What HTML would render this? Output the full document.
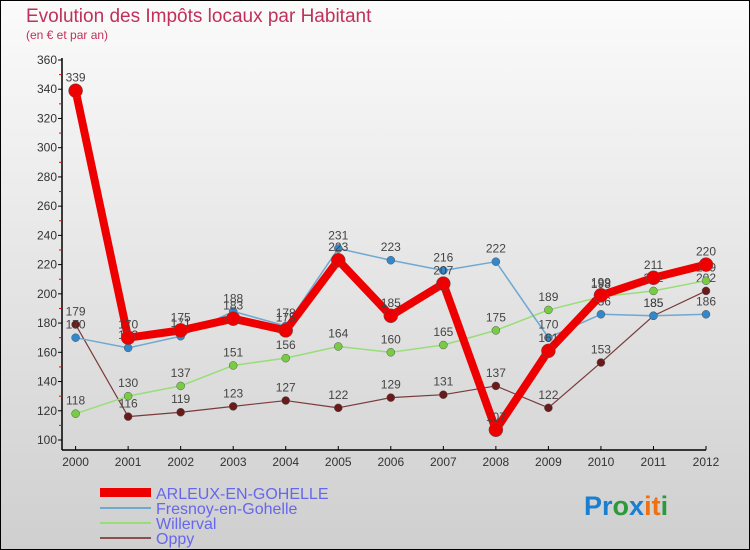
<!DOCTYPE html>
<html><head><meta charset="utf-8"><style>
body{margin:0}
svg{display:block;font-family:"Liberation Sans",sans-serif}
</style></head><body>
<svg id="c" width="750" height="550" viewBox="0 0 750 550">
<defs><linearGradient id="bg" x1="0" y1="0" x2="0" y2="1"><stop offset="0" stop-color="#fbfbfb"/><stop offset="1" stop-color="#cfcfcf"/></linearGradient></defs>
<rect x="0.5" y="0.5" width="749" height="549" fill="url(#bg)" stroke="#000"/>
<text x="26" y="22" font-size="19" fill="#c0305a">Evolution des Impôts locaux par Habitant</text>
<text x="26" y="39" font-size="12" fill="#c0305a">(en € et par an)</text>
<g id="axes"></g>
<g id="series"></g>
<g id="legend">
<rect x="100" y="488" width="51" height="9" fill="#ee0000"/>
<text x="156" y="499" font-size="16" fill="#6666ee">ARLEUX-EN-GOHELLE</text>
<rect x="100" y="507" width="51" height="2" fill="#6fa8d0"/>
<text x="156" y="514" font-size="16" fill="#6666ee">Fresnoy-en-Gohelle</text>
<rect x="100" y="522" width="51" height="2" fill="#99dd77"/>
<text x="156" y="529" font-size="16" fill="#6666ee">Willerval</text>
<rect x="100" y="537" width="51" height="2" fill="#8a5050"/>
<text x="156" y="544" font-size="16" fill="#6666ee">Oppy</text>
</g>
<text x="584" y="515" font-size="27" font-weight="bold"><tspan fill="#1a7fd0">Pr</tspan><tspan fill="#2a9a3a">o</tspan><tspan fill="#1a7fd0">x</tspan><tspan fill="#f07010">it</tspan><tspan fill="#2a9a3a">i</tspan></text>
</svg>
<script>
const years=["2000","2001","2002","2003","2004","2005","2006","2007","2008","2009","2010","2011","2012"];
const arleux=[339,170,175,183,175,223,185,207,107,161,199,211,220];
const fresnoy=[170,163,171,188,178,231,223,216,222,170,186,185,186];
const willerval=[118,130,137,151,156,164,160,165,175,189,198,202,209];
const oppy=[179,116,119,123,127,122,129,131,137,122,153,185,202];
const yTicks=[100,120,140,160,180,200,220,240,260,280,300,320,340,360];
const NS="http://www.w3.org/2000/svg";
function X(i){return 75.6+i*(706-75.6)/(years.length-1);}
function Y(v){return 440-(v-100)*(380/260);}
function mk(t,a,p){const e=document.createElementNS(NS,t);for(const k in a)e.setAttribute(k,a[k]);p.appendChild(e);return e;}
const ax=document.getElementById('axes');
let l=mk('line',{x1:62,y1:58,x2:62,y2:450,stroke:'#000','stroke-width':1.5},ax);


l=mk('line',{x1:62,y1:450,x2:706,y2:450,stroke:'#000','stroke-width':1.5},ax);


yTicks.forEach((v,i)=>{
  mk('line',{x1:58,y1:Y(v),x2:62,y2:Y(v),stroke:'#000'},ax);
  if(i<yTicks.length-1)mk('line',{x1:59,y1:Y(v+10),x2:62,y2:Y(v+10),stroke:'#e00'},ax);
  const t=mk('text',{x:57,y:Y(v)+4,'font-size':12,'text-anchor':'end',fill:'#333'},ax);
  t.textContent=v;
  
  
});
years.forEach((y,i)=>{
  mk('line',{x1:X(i),y1:446,x2:X(i),y2:450,stroke:'#000'},ax);
  const t=mk('text',{x:X(i),y:466,'font-size':12,'text-anchor':'middle',fill:'#333'},ax);
  t.textContent=y;
  
  
});
const sg=document.getElementById('series');
function draw(vals,name,color,w,r,mcol){
  const g=mk('g',{},sg);
  
  
  const p=mk('polyline',{points:vals.map((v,i)=>X(i)+','+Y(v)).join(' '),fill:'none',stroke:color,'stroke-width':w,'stroke-linejoin':'round'},g);
  
  
  vals.forEach((v,i)=>{
    const c=mk('circle',{cx:X(i),cy:Y(v),r:r,fill:mcol,stroke:'#555','stroke-width':0.5},g);
    
    
    const t=mk('text',{x:X(i),y:Y(v)-9,'font-size':12,'text-anchor':'middle',fill:'#444'},g);
    t.textContent=v;
    
    
  });
}
draw(oppy,'oppy','#7a3a3a',1.2,4,'#6a1a1a');
draw(willerval,'willerval','#99dd77',1.5,4,'#77cc44');
draw(fresnoy,'fresnoy','#6fa8d0',1.5,4,'#3388cc');
draw(arleux,'arleux','#ee0000',8,7,'#ee0000');
</script>
</body></html>
